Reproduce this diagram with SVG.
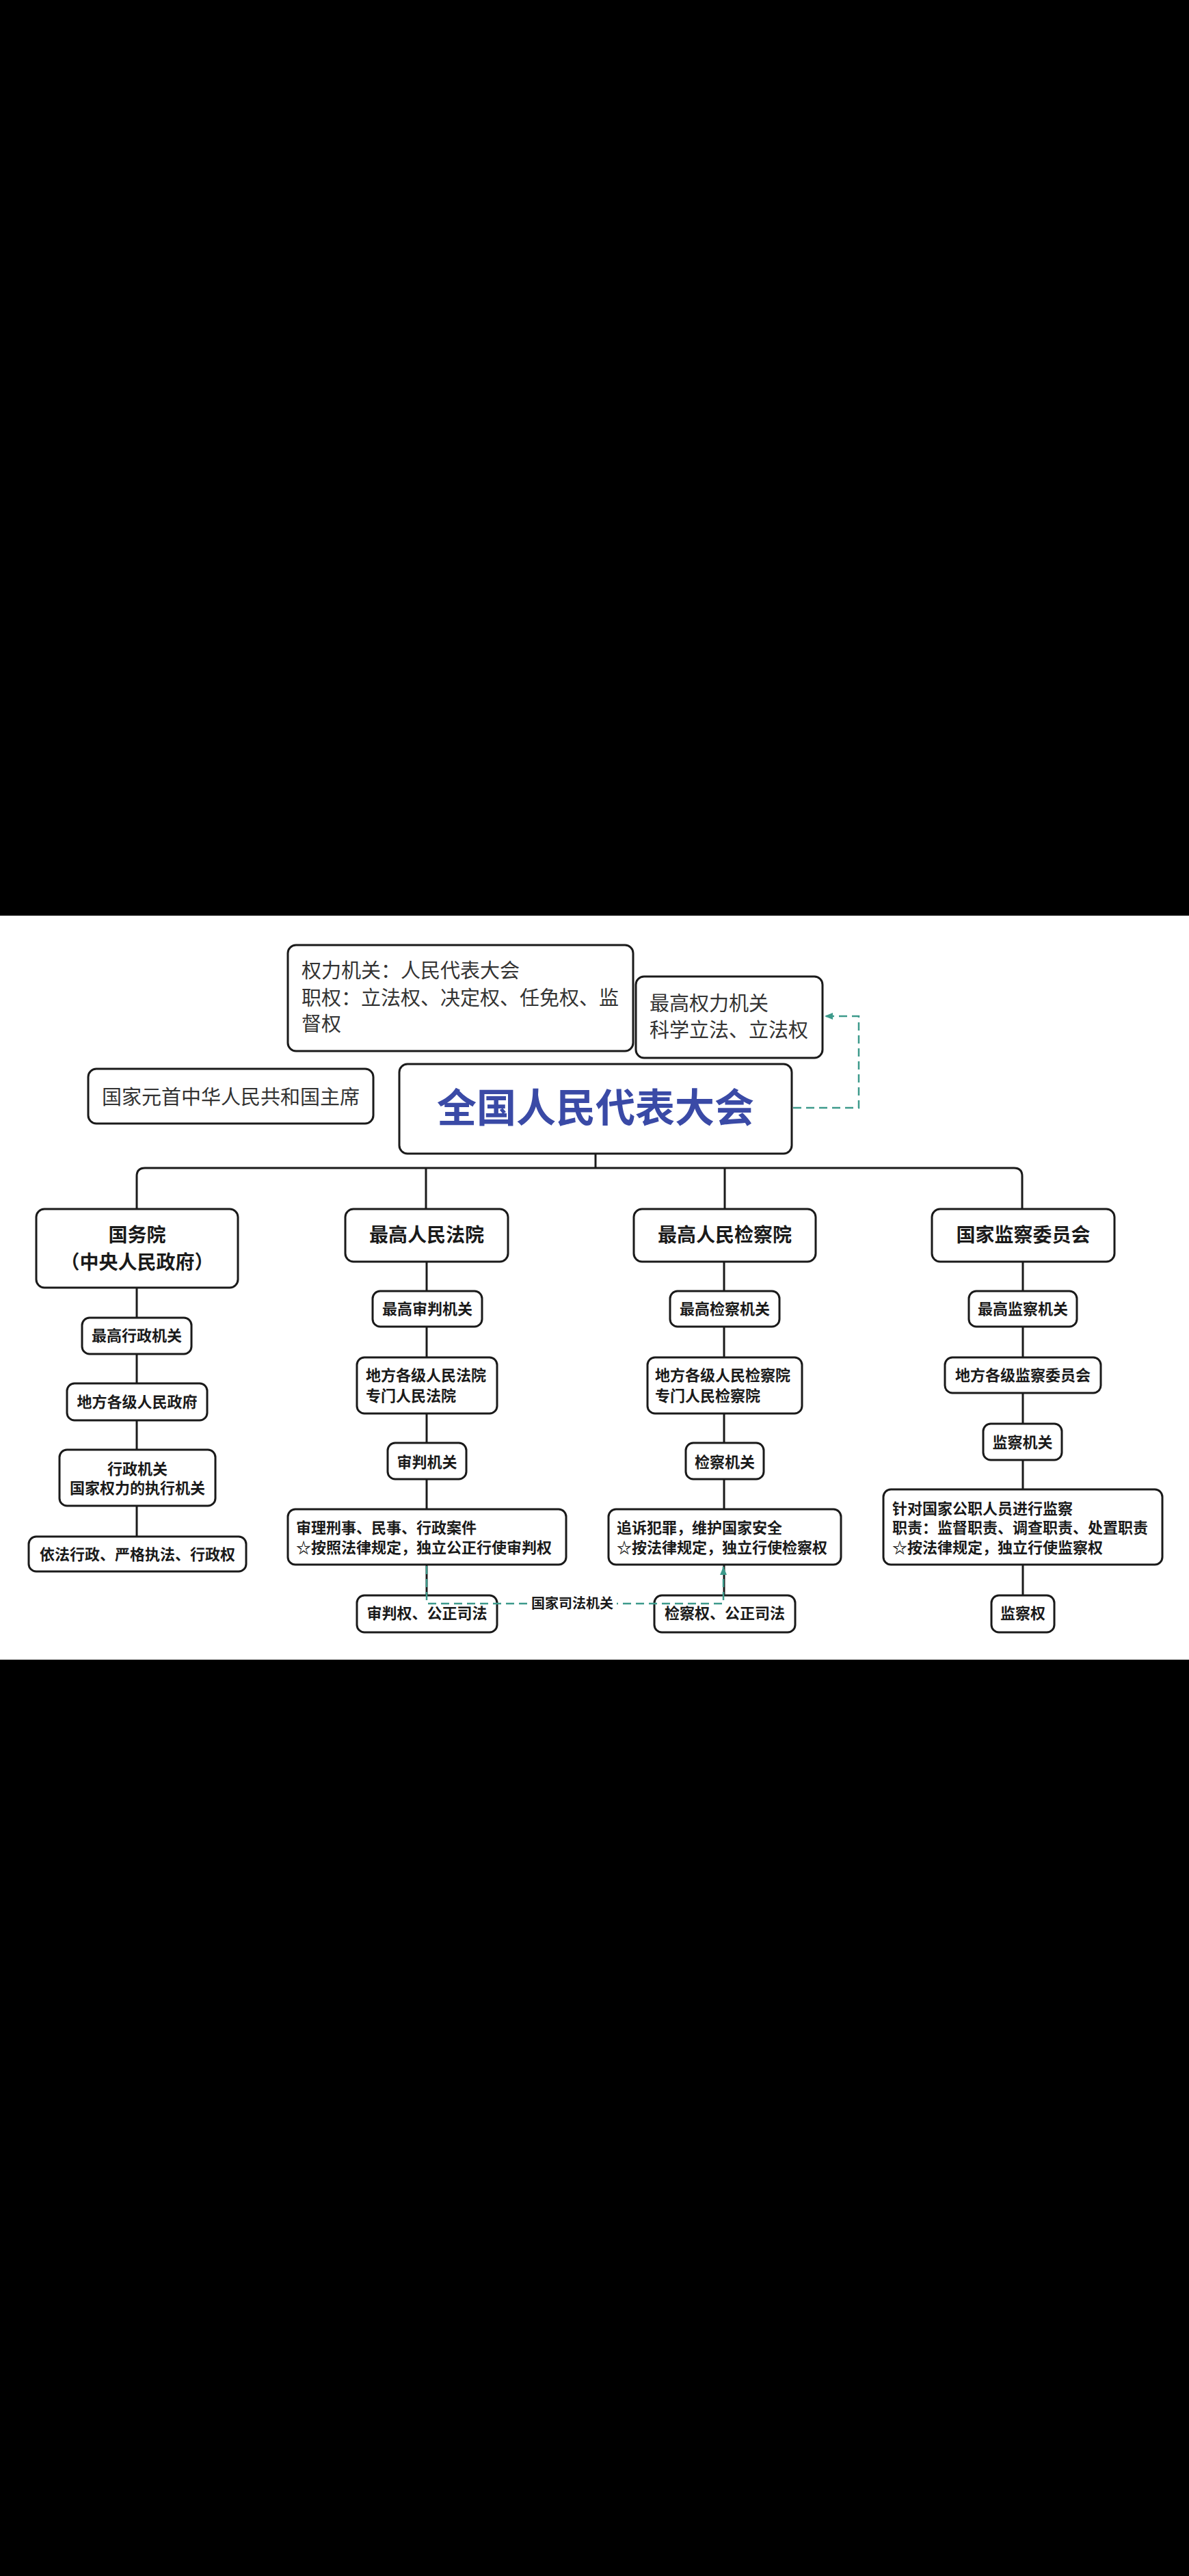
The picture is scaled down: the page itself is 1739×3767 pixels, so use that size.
<svg xmlns="http://www.w3.org/2000/svg" width="1739" height="3767" viewBox="0 0 1739 3767">
<defs>
<style>
.bx{fill:#fff;stroke:#1a1a1a;stroke-width:3}
.ln{fill:none;stroke:#1a1a1a;stroke-width:3}
.dash{fill:none;stroke:#3d9a8b;stroke-width:2.5;stroke-dasharray:12 7}
.t{font-family:"Noto Sans CJK SC","Noto Sans",sans-serif;fill:#1a1a1a}
.top{font-size:29px;font-weight:400;fill:#333}
.hd{font-size:28px;font-weight:700}
.sm{font-size:22px;font-weight:700}
.ti{font-size:58px;font-weight:700;fill:#3a4aa6}
.c{text-anchor:middle}
</style>
<marker id="ah" markerUnits="userSpaceOnUse" markerWidth="14" markerHeight="12" refX="12" refY="6" orient="auto">
<path d="M0,1 L12,6 L0,11 Z" fill="#3d9a8b"/>
</marker>
</defs>
<rect x="0" y="0" width="1739" height="3767" fill="#000"/>
<rect x="0" y="1339" width="1739" height="1088" fill="#fff"/>

<g id="node-power">
<rect class="bx" x="421" y="1382" width="505" height="155" rx="12"/>
<text class="t top" x="441" y="1430">权力机关：人民代表大会</text>
<text class="t top" x="441" y="1470">职权：立法权、决定权、任免权、监</text>
<text class="t top" x="441" y="1508">督权</text>
</g>
<g id="node-highest">
<rect class="bx" x="930" y="1428" width="273" height="119" rx="12"/>
<text class="t top" x="950" y="1478">最高权力机关</text>
<text class="t top" x="950" y="1517">科学立法、立法权</text>
</g>
<g id="node-president">
<rect class="bx" x="129" y="1563" width="417" height="80" rx="12"/>
<text class="t top c" x="337.5" y="1615">国家元首中华人民共和国主席</text>
</g>
<g id="node-npc">
<rect class="bx" x="584" y="1556" width="574" height="131" rx="12"/>
<text class="t ti c" x="871" y="1641">全国人民代表大会</text>
</g>

<g id="node-state-council">
<rect class="bx" x="53" y="1768" width="295" height="115" rx="12"/>
<text class="t hd c" x="200.5" y="1816">国务院</text>
<text class="t hd c" x="200.5" y="1856">（中央人民政府）</text>
</g>
<g id="node-admin-top">
<rect class="bx" x="120" y="1927" width="160" height="53" rx="11"/>
<text class="t sm c" x="200" y="1961">最高行政机关</text>
</g>
<g id="node-local-gov">
<rect class="bx" x="98" y="2023" width="205" height="54" rx="11"/>
<text class="t sm c" x="200.5" y="2058">地方各级人民政府</text>
</g>
<g id="node-admin">
<rect class="bx" x="87" y="2120" width="228" height="82" rx="11"/>
<text class="t sm c" x="201" y="2155.5">行政机关</text>
<text class="t sm c" x="201" y="2184">国家权力的执行机关</text>
</g>
<g id="node-admin-power">
<rect class="bx" x="42" y="2247" width="318" height="51" rx="11"/>
<text class="t sm c" x="201" y="2280.5">依法行政、严格执法、行政权</text>
</g>

<g id="node-court">
<rect class="bx" x="505" y="1768" width="238" height="77" rx="12"/>
<text class="t hd c" x="624" y="1816">最高人民法院</text>
</g>
<g id="node-court-top">
<rect class="bx" x="545" y="1888" width="160" height="52" rx="11"/>
<text class="t sm c" x="625" y="1922">最高审判机关</text>
</g>
<g id="node-local-court">
<rect class="bx" x="522" y="1985" width="205" height="82" rx="11"/>
<text class="t sm" x="535" y="2019">地方各级人民法院</text>
<text class="t sm" x="535" y="2049">专门人民法院</text>
</g>
<g id="node-judicial">
<rect class="bx" x="567" y="2110" width="115" height="53" rx="11"/>
<text class="t sm c" x="624.5" y="2145.5">审判机关</text>
</g>
<g id="node-trial">
<rect class="bx" x="421" y="2207" width="407" height="81" rx="11"/>
<text class="t sm" x="433" y="2242">审理刑事、民事、行政案件</text>
<text class="t sm" x="433" y="2270.5">☆按照法律规定，独立公正行使审判权</text>
</g>
<g id="node-trial-power">
<rect class="bx" x="522" y="2333" width="205" height="54" rx="11"/>
<text class="t sm c" x="624.5" y="2367">审判权、公正司法</text>
</g>

<g id="node-procuratorate">
<rect class="bx" x="927" y="1768" width="266" height="77" rx="12"/>
<text class="t hd c" x="1060" y="1816">最高人民检察院</text>
</g>
<g id="node-proc-top">
<rect class="bx" x="980" y="1888" width="160" height="52" rx="11"/>
<text class="t sm c" x="1060" y="1922">最高检察机关</text>
</g>
<g id="node-local-proc">
<rect class="bx" x="947" y="1985" width="226" height="82" rx="11"/>
<text class="t sm" x="958" y="2019">地方各级人民检察院</text>
<text class="t sm" x="958" y="2049">专门人民检察院</text>
</g>
<g id="node-proc-organ">
<rect class="bx" x="1003" y="2110" width="114" height="53" rx="11"/>
<text class="t sm c" x="1060" y="2145.5">检察机关</text>
</g>
<g id="node-prosecute">
<rect class="bx" x="890" y="2207" width="340" height="81" rx="11"/>
<text class="t sm" x="902" y="2242">追诉犯罪，维护国家安全</text>
<text class="t sm" x="902" y="2270.5">☆按法律规定，独立行使检察权</text>
</g>
<g id="node-proc-power">
<rect class="bx" x="957" y="2333" width="206" height="54" rx="11"/>
<text class="t sm c" x="1060" y="2367">检察权、公正司法</text>
</g>

<g id="node-supervision">
<rect class="bx" x="1363" y="1768" width="267" height="77" rx="12"/>
<text class="t hd c" x="1496.5" y="1816">国家监察委员会</text>
</g>
<g id="node-sup-top">
<rect class="bx" x="1417" y="1888" width="158" height="52" rx="11"/>
<text class="t sm c" x="1496" y="1922">最高监察机关</text>
</g>
<g id="node-local-sup">
<rect class="bx" x="1382" y="1985" width="228" height="52" rx="11"/>
<text class="t sm c" x="1496" y="2019">地方各级监察委员会</text>
</g>
<g id="node-sup-organ">
<rect class="bx" x="1438" y="2082" width="115" height="53" rx="11"/>
<text class="t sm c" x="1495.5" y="2116.5">监察机关</text>
</g>
<g id="node-sup-duty">
<rect class="bx" x="1292" y="2178" width="408" height="110" rx="11"/>
<text class="t sm" x="1305" y="2214">针对国家公职人员进行监察</text>
<text class="t sm" x="1305" y="2242">职责：监督职责、调查职责、处置职责</text>
<text class="t sm" x="1305" y="2270.5">☆按法律规定，独立行使监察权</text>
</g>
<g id="node-sup-power">
<rect class="bx" x="1450" y="2333" width="92" height="54" rx="11"/>
<text class="t sm c" x="1496" y="2367">监察权</text>
</g>

<g id="connectors">
<path class="ln" d="M871,1687 V1708"/>
<path class="ln" d="M200,1768 V1720 Q200,1708 212,1708 H1483 Q1495,1708 1495,1720 V1768"/>
<path class="ln" d="M623,1708 V1768"/>
<path class="ln" d="M1060,1708 V1768"/>
<path class="ln" d="M200,1883 V1927 M200,1980 V2023 M200,2077 V2120 M200,2202 V2247"/>
<path class="ln" d="M624,1845 V1888 M624,1940 V1985 M624,2067 V2110 M624,2163 V2207 M624,2288 V2333"/>
<path class="ln" d="M1059,1845 V1888 M1059,1940 V1985 M1059,2067 V2110 M1059,2163 V2207 M1059,2288 V2333"/>
<path class="ln" d="M1496,1845 V1888 M1496,1940 V1985 M1496,2037 V2082 M1496,2135 V2178 M1496,2288 V2333"/>
<path class="dash" d="M1160,1620 H1256 V1486 H1206" marker-end="url(#ah)"/>
<path class="dash" d="M624,2290 V2345 H1058 V2291" marker-end="url(#ah)"/>
<rect x="772" y="2333" width="130" height="25" fill="#fff"/>
<text class="t c" x="837" y="2352" style="font-size:20px;font-weight:700">国家司法机关</text>
</g>
</svg>
